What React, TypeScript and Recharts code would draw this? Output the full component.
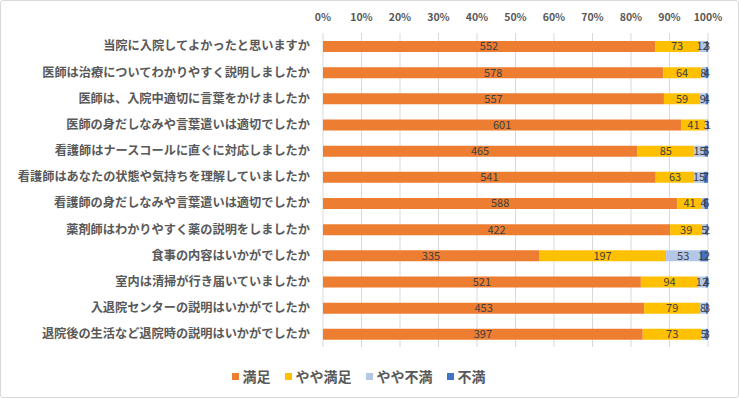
import { BarChart, Bar, XAxis, YAxis, CartesianGrid, Legend, LabelList } from "recharts"

const questions = [
  "当院に入院してよかったと思いますか",
  "医師は治療についてわかりやすく説明しましたか",
  "医師は、入院中適切に言葉をかけましたか",
  "医師の身だしなみや言葉遣いは適切でしたか",
  "看護師はナースコールに直ぐに対応しましたか",
  "看護師はあなたの状態や気持ちを理解していましたか",
  "看護師の身だしなみや言葉遣いは適切でしたか",
  "薬剤師はわかりやすく薬の説明をしましたか",
  "食事の内容はいかがでしたか",
  "室内は清掃が行き届いていましたか",
  "入退院センターの説明はいかがでしたか",
  "退院後の生活など退院時の説明はいかがでしたか",
]

const manzoku = [552, 578, 557, 601, 465, 541, 588, 422, 335, 521, 453, 397]
const yayaManzoku = [73, 64, 59, 41, 85, 63, 41, 39, 197, 94, 79, 73]
const yayaFuman = [12, 8, 9, 3, 15, 15, 4, 5, 53, 12, 8, 5]
const fuman = [3, 4, 4, 1, 5, 7, 6, 2, 12, 4, 3, 3]

const percentTicks = [0, 0.1, 0.2, 0.3, 0.4, 0.5, 0.6, 0.7, 0.8, 0.9, 1]

const series = [
  { key: "manzoku", name: "満足", color: "#ED7D31" },
  { key: "yayaManzoku", name: "やや満足", color: "#FFC000" },
  { key: "yayaFuman", name: "やや不満", color: "#B4C7E7" },
  { key: "fuman", name: "不満", color: "#4472C4" },
]

const data = questions.map((q, i) => ({
  q,
  manzoku: manzoku[i],
  yayaManzoku: yayaManzoku[i],
  yayaFuman: yayaFuman[i],
  fuman: fuman[i],
}))

const font = "'Noto Sans CJK JP', 'Noto Sans', sans-serif"

function LegendBox() {
  return (
    <div style={{ display: "flex", justifyContent: "center", gap: 14, paddingLeft: 8 }}>
      {series.map((s) => (
        <div key={s.key} style={{ display: "flex", alignItems: "center", fontSize: 14, fontWeight: 700, color: "#595959" }}>
          <span style={{ width: 7, height: 7, background: s.color, marginRight: 4, display: "inline-block" }} />
          {s.name}
        </div>
      ))}
    </div>
  )
}

export default function App() {
  return (
    <div
      style={{
        position: "absolute",
        left: 0,
        top: 0,
        width: 739,
        height: 398,
        border: "1px solid #d9d9d9",
        borderRadius: 3,
        boxSizing: "border-box",
        fontFamily: font,
        background: "#fff",
      }}
    >
      <BarChart
        width={737}
        height={396}
        data={data}
        layout="vertical"
        stackOffset="expand"
        barSize={11}
        margin={{ top: 0, right: 30, left: 0, bottom: 30 }}
      >
        <CartesianGrid horizontal={false} stroke="#d9d9d9" />
        <XAxis
          type="number"
          orientation="top"
          domain={[0, 1]}
          ticks={percentTicks}
          tickFormatter={(v: number) => `${Math.round(v * 100)}%`}
          axisLine={false}
          tickLine={false}
          height={32}
          tickMargin={6}
          tick={{ fontSize: 10.5, fill: "#595959", fontWeight: 700, fontFamily: font }}
          interval={0}
        />
        <YAxis
          type="category"
          dataKey="q"
          width={322}
          axisLine={false}
          tickLine={false}
          tickMargin={7}
          interval={0}
          tick={{ fontSize: 12.2, fill: "#595959", fontWeight: 700, fontFamily: font }}
        />
        <Legend verticalAlign="bottom" content={() => <LegendBox />} wrapperStyle={{ bottom: 11 }} />
        {series.map((s) => (
          <Bar key={s.key} dataKey={s.key} name={s.name} stackId="a" fill={s.color} isAnimationActive={false}>
            <LabelList dataKey={s.key} position="center" fill="#404040" fontSize={11} fontFamily={font} />
          </Bar>
        ))}
      </BarChart>
    </div>
  )
}
